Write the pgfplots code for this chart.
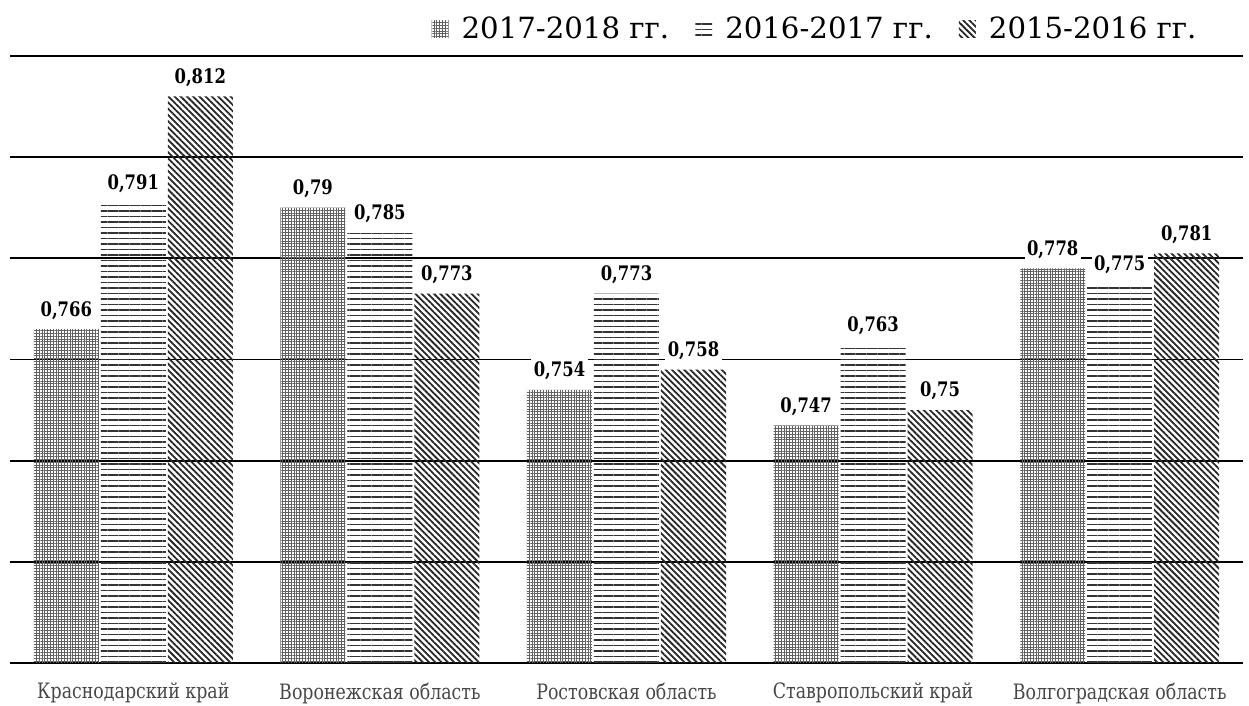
\documentclass[border=0pt]{standalone}
\usepackage{pgfplots}
\pgfplotsset{compat=1.18}
\usetikzlibrary{patterns.meta}
\usepackage{fontspec}
\setmainfont{DejaVu Serif}
\newfontfamily\condfont{DejaVu Serif}[FakeStretch=0.82]
\begin{document}
\begin{tikzpicture}
\path[use as bounding box] (-5pt,-21.5pt) rectangle (619.5pt,331.5pt);
\begin{axis}[
  at={(0,0)}, anchor=south west,
  scale only axis, width=616.5pt, height=303.5pt,
  ybar=1pt, bar width=32.5pt,
  xmin=-0.5, xmax=4.5, ymin=0.70, ymax=0.82,
  xtick={0,1,2,3,4},
  xticklabels={Краснодарский край, Воронежская область, Ростовская область, Ставропольский край, Волгоградская область},
  xticklabel style={font=\condfont\fontsize{10.6pt}{12pt}\selectfont, text=black!72, yshift=-6.5pt},
  ytick={0.70,0.72,0.74,0.76,0.78,0.80,0.82},
  yticklabels={},
  major tick length=0pt,
  axis line style={draw=none},
  ymajorgrids, grid style={black, line width=0.95pt},
  nodes near coords,
  /pgf/number format/.cd, fixed, precision=3, use comma, assume math mode=true,
  /pgfplots/.cd,
  nodes near coords style={font=\condfont\bfseries\fontsize{10pt}{11pt}\selectfont, anchor=south, yshift=3.5pt, fill=white, inner sep=1.2pt},
  legend style={at={(1,1)}, anchor=south east, xshift=-18pt, yshift=3pt, draw=none, fill=none,
    font=\fontsize{14.6pt}{16pt}\selectfont, column sep=0pt,
    /tikz/every even column/.append style={column sep=11pt}},
  legend columns=3,
  legend image code/.code={\fill[#1] (0pt,-4.2pt) rectangle (8.5pt,4.2pt); \path (13pt,0pt);},
]
\addplot[draw=none, pattern={Hatch[angle=0, distance=1.4pt, line width=0.5pt]}, pattern color=black!62]
  coordinates {(0,0.766) (1,0.79) (2,0.754) (3,0.747) (4,0.778)};
\addplot[draw=none, pattern={Lines[angle=0, distance=2.75pt, line width=0.9pt]}, pattern color=black!80]
  coordinates {(0,0.791) (1,0.785) (2,0.773) (3,0.763) (4,0.775)};
\addplot[draw=none, pattern={Lines[angle=-45, distance=2.2pt, line width=0.9pt]}, pattern color=black!85]
  coordinates {(0,0.812) (1,0.773) (2,0.758) (3,0.75) (4,0.781)};
\legend{2017-2018 гг., 2016-2017 гг., 2015-2016 гг.}
\end{axis}
\end{tikzpicture}
\end{document}
